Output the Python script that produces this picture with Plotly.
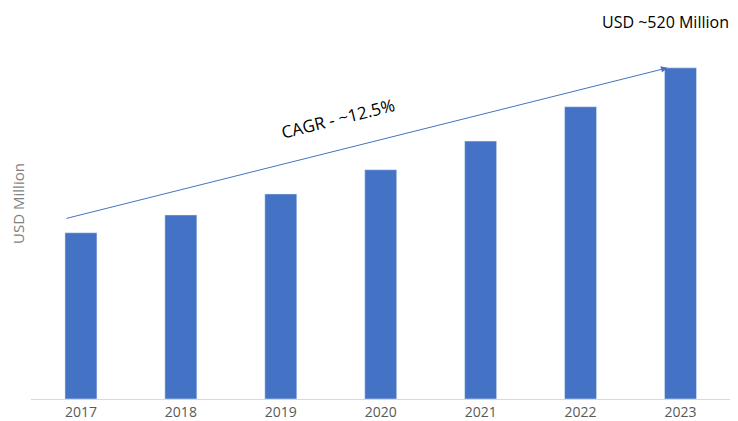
import plotly.graph_objects as go

years = ["2017", "2018", "2019", "2020", "2021", "2022", "2023"]
values = [261, 289, 322, 360, 405, 459, 520]

fig = go.Figure(go.Bar(x=years, y=values, marker_color="#4472C4", width=0.32))
fig.update_layout(
    width=738, height=421, margin=dict(l=23, r=15, t=0, b=30),
    plot_bgcolor="white", paper_bgcolor="white", showlegend=False,
    font=dict(family="Open Sans", color="#595959"),
)
fig.update_xaxes(showline=True, linecolor="#D9D9D9", linewidth=1, tickfont=dict(size=14), ticks="",
                 automargin=False)
fig.update_yaxes(range=[0, 614], showticklabels=False, showgrid=False, zeroline=False, automargin=False,
                 title=dict(text="USD Million", font=dict(size=15, color="#7F7F7F"), standoff=2))
fig.add_annotation(x=5.87, y=520, ax=-0.16, ay=283, xref="x", yref="y", axref="x", ayref="y",
                   showarrow=True, arrowhead=2, arrowsize=1.3, arrowwidth=1, arrowcolor="#4472C4", text="")
fig.add_annotation(x=2.57, y=440, xref="x", yref="y", text="CAGR - ~12.5%", showarrow=False,
                   textangle=-14, font=dict(size=17, color="black", family="Open Sans"))
fig.add_annotation(x=5.85, y=592, xref="x", yref="y", text="USD ~520 Million", showarrow=False,
                   font=dict(size=16, color="black", family="Open Sans"))
fig.write_html("out.html")
